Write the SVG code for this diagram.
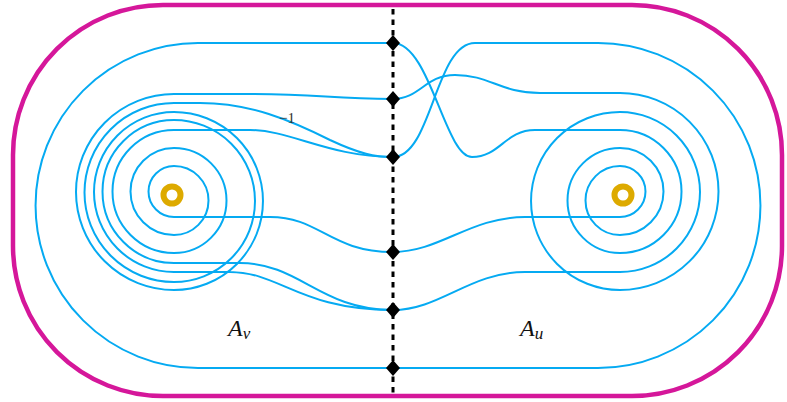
<svg xmlns="http://www.w3.org/2000/svg" width="787" height="402" viewBox="0 0 787 402">
<style>
.bd{fill:none;stroke:#D5179A;stroke-width:4.5}
.c{fill:none;stroke:#05AAF2;stroke-width:2}
.sep{fill:none;stroke:#000;stroke-width:3;stroke-dasharray:5.5 5}
.hole{fill:none;stroke:#DDAA00;stroke-width:6}
.dia{fill:#000}
.lab{font-family:"Liberation Serif","Times New Roman",serif;font-style:italic;font-size:24px;fill:#111}
.sub{font-size:17px}
.w{font-family:"Liberation Serif","Times New Roman",serif;font-size:15px;fill:#333}
</style>
<defs>
<polygon id="dm" points="0,-8 7,0 0,8 -7,0"/>
</defs>
<rect id="boundary" class="bd" x="13" y="5" width="769" height="391" rx="150" ry="150"/>
<g id="connectors">
<path class="c" d="M393,43 L198,43 A162.5,162.5 0 0 0 198,368 L393,368"/>
<path class="c" d="M393,157 C432,157 435,43 475,43 L598,43 A162.5,162.5 0 0 1 598,368 L393,368"/>
<path class="c" d="M393,252 C440,252 470,217 525,217 L620,217 A25.5,25.5 0 0 0 620,166 A34.5,34.5 0 0 0 620,235 A43.5,43.5 0 0 0 620,148 A52.5,52.5 0 0 0 620,253 A61.5,61.5 0 0 0 620,130 L535,130 C505,130 500,157 472,157 C445,157 430,43 393,43"/>
<path class="c" d="M393,310 C440,310 470,272 525,272 L620,272 A80,80 0 0 0 620,112 A89,89 0 0 0 620,290 A98.5,98.5 0 0 0 620,93 L540,93 C500,93 490,75 455,75 C425,75 420,99 393,99"/>
<path class="c" d="M393,252 C330,252 320,217 270,217 L174,217 A25.5,25.5 0 0 1 174,166 A34.5,34.5 0 0 1 174,235 A43.5,43.5 0 0 1 174,148 A52.5,52.5 0 0 1 174,253 A61.5,61.5 0 0 1 174,130 L250,130 C290,130 330,157 393,157"/>
<path class="c" d="M393,310 C320,310 300,263 240,263 L174,263 A71.5,71.5 0 0 1 174,120 A81,81 0 0 1 174,282 A89.5,89.5 0 0 1 174,103 L200,103 C250,103 290,120 330,140 C360,154 375,157 393,157"/>
<path class="c" d="M393,310 C300,310 280,272 230,272 L174,272 A80,80 0 0 1 174,112 A89,89 0 0 1 174,290 A98,98 0 0 1 174,94 L250,94 C320,94 330,99 393,99"/>
<line class="sep" x1="393" y1="9" x2="393" y2="396"/>
</g>
<text class="w" x="279" y="123">−1</text>
<g id="hole-v"><circle class="hole" cx="172" cy="195" r="8.5"/></g>
<g id="hole-u"><circle class="hole" cx="623" cy="195" r="8.5"/></g>
<g id="n1"><use href="#dm" class="dia" x="393" y="43"/></g>
<g id="n2"><use href="#dm" class="dia" x="393" y="99"/></g>
<g id="n3"><use href="#dm" class="dia" x="393" y="157"/></g>
<g id="n4"><use href="#dm" class="dia" x="393" y="252"/></g>
<g id="n5"><use href="#dm" class="dia" x="393" y="310"/></g>
<g id="n6"><use href="#dm" class="dia" x="393" y="368"/></g>
<g id="label-v"><text class="lab" x="228" y="336">A<tspan class="sub" dy="3">v</tspan></text></g>
<g id="label-u"><text class="lab" x="520" y="336">A<tspan class="sub" dy="3">u</tspan></text></g>
</svg>
